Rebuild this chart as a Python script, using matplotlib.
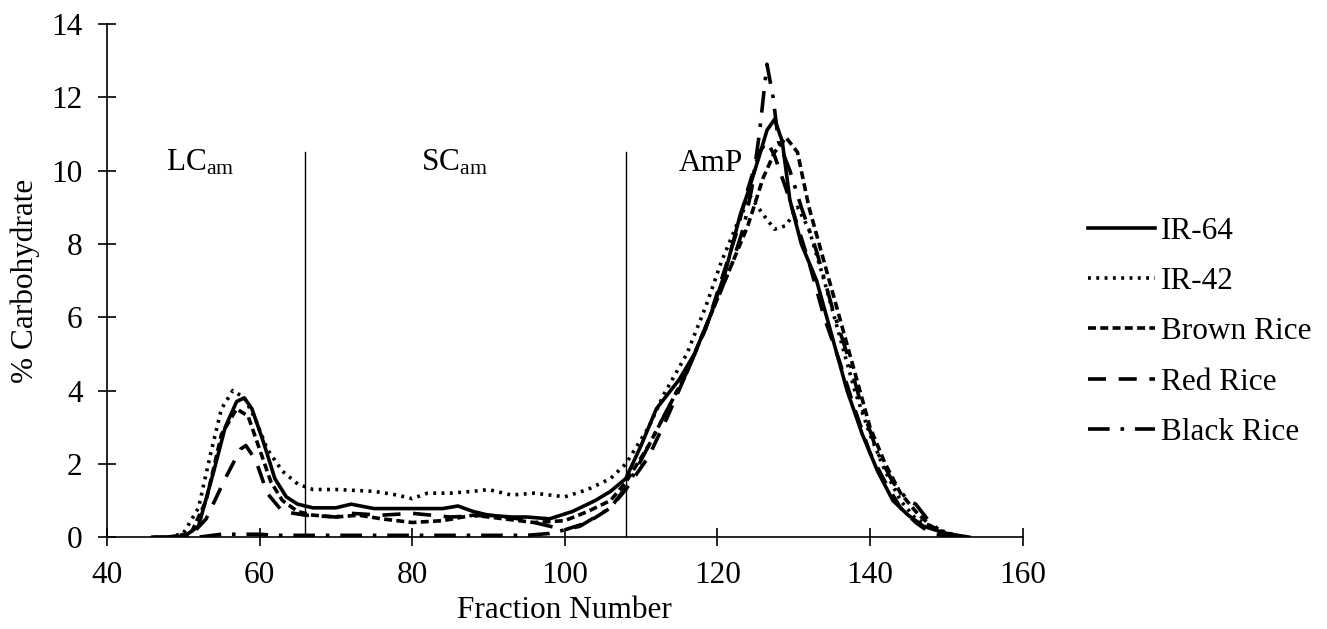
import matplotlib
matplotlib.use('Agg')
import matplotlib.pyplot as plt

plt.rcParams['font.family'] = ['Liberation Serif', 'DejaVu Serif']
plt.rcParams['mathtext.fontset'] = 'custom'
plt.rcParams['mathtext.rm'] = 'Liberation Serif'
plt.rcParams['mathtext.it'] = 'Liberation Serif'

# --- data ---
ir64_x = [46, 50, 52, 54, 55.5, 57, 58, 59, 60.5, 62, 63.5, 65, 67, 70, 72, 75, 80, 84, 86, 88, 90, 93, 95,
          98, 101, 104, 106, 108, 110, 112, 115, 117, 119, 121, 123, 124, 125.5, 126.5, 127.5, 128.5,
          129.5, 131, 133, 135, 137, 139, 141, 143, 145, 147, 150, 153]
ir64_y = [0, 0, 0.3, 1.8, 3.0, 3.7, 3.8, 3.5, 2.6, 1.6, 1.1, 0.9, 0.8, 0.8, 0.9, 0.78, 0.78, 0.78, 0.85, 0.7,
          0.6, 0.55, 0.55, 0.5, 0.7, 1.0, 1.25, 1.6, 2.5, 3.5, 4.3, 5.0, 6.0, 7.2, 8.8, 9.4, 10.4, 11.1, 11.4, 10.8,
          9.2, 8.0, 7.0, 5.5, 4.0, 2.8, 1.8, 1.0, 0.6, 0.3, 0.1, 0]

ir42_x = [48, 50, 52, 53.5, 55, 56.5, 58, 59.5, 61, 63, 65, 67, 70, 75, 78, 80, 82, 85, 88, 90, 93, 96,
          100, 103, 106, 108, 111, 113, 116, 118.5, 120.5, 122.5, 124.3, 126, 127.5, 129, 130.5, 132,
          134, 136, 138, 140, 142, 144, 146, 149, 152]
ir42_y = [0, 0.1, 0.8, 2.2, 3.5, 4.0, 3.8, 3.2, 2.4, 1.8, 1.45, 1.3, 1.3, 1.25, 1.15, 1.05, 1.2, 1.2, 1.25,
          1.3, 1.15, 1.2, 1.1, 1.3, 1.6, 2.0, 3.0, 3.9, 5.0, 6.3, 7.5, 8.5, 9.3, 8.8, 8.4, 8.5, 9.0, 8.4,
          7.0, 5.5, 4.0, 2.8, 1.8, 1.0, 0.5, 0.2, 0]

brown_x = [48, 51, 53, 55, 57, 58.5, 60, 61.5, 63, 65, 67, 70, 73, 76, 80, 84, 88, 92, 96, 100, 103, 106,
           108, 111, 113.5, 116, 118, 120, 122, 124, 126, 127.5, 129, 130.5, 132, 134, 136, 138, 140,
           142, 144, 146, 148, 150, 152]
brown_y = [0, 0.1, 1.0, 2.8, 3.5, 3.3, 2.4, 1.5, 1.0, 0.7, 0.6, 0.55, 0.6, 0.5, 0.4, 0.45, 0.6, 0.5, 0.4,
           0.45, 0.7, 1.0, 1.5, 2.5, 3.5, 4.5, 5.5, 6.5, 7.5, 8.5, 9.8, 10.5, 10.9, 10.5, 9.0, 7.5, 6.0,
           4.5, 3.0, 2.0, 1.2, 0.7, 0.3, 0.1, 0]

red_x = [48, 51, 53, 55.5, 57.5, 58.2, 59.5, 61, 63, 66, 70, 72, 76, 80, 85, 90, 94, 98, 100, 103, 106,
         108, 111, 113.5, 116, 118.5, 120.5, 122.5, 124, 125.5, 126.5, 127.5, 129, 130.5, 132, 134, 136,
         138, 140, 142, 144, 146, 148, 151]
red_y = [0, 0.05, 0.5, 1.6, 2.4, 2.5, 2.1, 1.2, 0.7, 0.6, 0.55, 0.65, 0.6, 0.65, 0.55, 0.6, 0.5, 0.3,
         0.2, 0.4, 0.8, 1.3, 2.2, 3.3, 4.5, 5.7, 7.0, 8.3, 9.5, 10.5, 10.8, 10.4, 9.5, 8.5, 7.5, 6.0, 4.8,
         3.5, 2.3, 1.5, 0.8, 0.4, 0.1, 0]

black_x = [46, 52, 55, 60, 62, 70, 80, 90, 95, 98, 102, 106, 108.5, 111, 113.5, 116, 118, 120, 122, 123.5,
           124.5, 125.5, 126.5, 127.3, 128, 129.5, 131, 133, 135, 137, 139, 141, 143, 145, 146, 147.5,
           149, 151]
black_y = [0, 0, 0.08, 0.08, 0.05, 0.05, 0.05, 0.05, 0.05, 0.1, 0.3, 0.8, 1.5, 2.5, 3.5, 4.5, 5.5, 6.5,
           7.5, 8.5, 9.5, 11.0, 12.9, 12.0, 10.8, 10.0, 9.0, 7.8, 6.3, 5.0, 3.5, 2.3, 1.5, 1.0, 0.9, 0.5,
           0.2, 0.05]

series = [
    ('IR-64', ir64_x, ir64_y, '-'),
    ('IR-42', ir42_x, ir42_y, (0, (0.8, 1.5))),
    ('Brown Rice', brown_x, brown_y, (0, (2.2, 1.2))),
    ('Red Rice', red_x, red_y, (0, (5, 3.5))),
    ('Black Rice', black_x, black_y, (0, (6, 3, 1, 3))),
]

region_x = [66, 108]
region_top = 10.5
region_labels = [(52.2, 'LC$_{\\mathrm{am}}$'), (85.6, 'SC$_{\\mathrm{am}}$'), (119.2, 'AmP')]

FS = 22.5

fig = plt.figure(figsize=(13.27, 6.29), dpi=100)
ax = fig.add_axes([0.0806, 0.146, 0.690, 0.816])

for name, xs, ys, ls in series:
    ax.plot(xs, ys, color='black', linestyle=ls, linewidth=2.6, label=name)

for xv in region_x:
    ax.plot([xv, xv], [0, region_top], color='black', linewidth=1.0)

for xv, txt in region_labels:
    ax.text(xv, 10.2, txt, ha='center', va='center', fontsize=FS)

ax.set_xlim(40, 160)
ax.set_ylim(0, 14)
ax.set_xticks(range(40, 161, 20))
ax.set_yticks(range(0, 15, 2))
ax.tick_params(direction='inout', length=13, width=1.2, labelsize=FS, pad=11)
ax.spines['top'].set_visible(False)
ax.spines['right'].set_visible(False)
ax.spines['left'].set_linewidth(1.2)
ax.spines['bottom'].set_linewidth(1.2)
ax.set_xlabel('Fraction Number', fontsize=FS, labelpad=4)
ax.set_ylabel('% Carbohydrate', fontsize=FS, labelpad=8)

ax.legend(loc='center left', bbox_to_anchor=(1.071, 0.40), frameon=False, fontsize=FS,
          handlelength=2.15, handletextpad=0.2, labelspacing=0.68, borderaxespad=0, borderpad=0)

fig.savefig('out.png', dpi=100)
